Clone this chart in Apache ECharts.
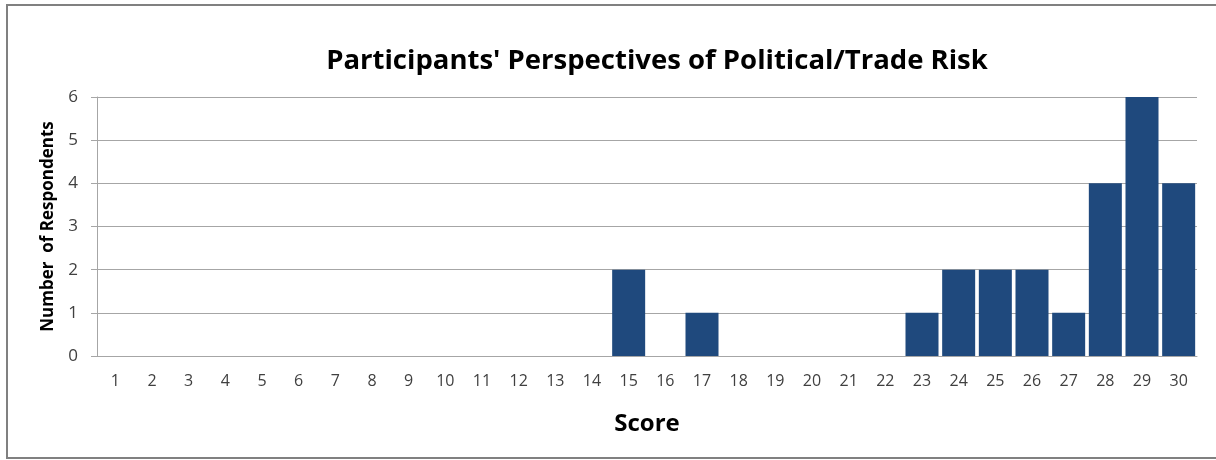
<!DOCTYPE html>
<html>
<head>
<meta charset="utf-8">
<script src="https://cdn.jsdelivr.net/npm/echarts@6/dist/echarts.min.js"></script>
<style>
  html, body { margin: 0; padding: 0; background: #fff; }
  #chart { width: 1216px; height: 460px; }
</style>
</head>
<body>
<div id="chart"></div>
<script>
const scores = ['1','2','3','4','5','6','7','8','9','10','11','12','13','14','15',
  '16','17','18','19','20','21','22','23','24','25','26','27','28','29','30'];
const respondents = [0,0,0,0,0,0,0,0,0,0,0,0,0,0,2,0,1,0,0,0,0,0,1,2,2,2,1,4,6,4];
const yTicks = [0, 1, 2, 3, 4, 5, 6];

const myChart = echarts.init(document.getElementById('chart'));
const option = {
  animation: false,
  graphic: [{
    type: 'rect',
    shape: { x: 7, y: 5, width: 1230, height: 453 },
    style: { fill: 'none', stroke: '#808080', lineWidth: 2 }
  }],
  title: {
    text: "Participants' Perspectives of Political/Trade Risk",
    left: 652,
    textAlign: 'center',
    top: 42,
    textStyle: { fontFamily: 'Open Sans', fontWeight: 'bold', fontSize: 27.5, color: '#000' }
  },
  grid: { left: 97, right: 19, top: 97, bottom: 104, containLabel: false },
  xAxis: {
    type: 'category',
    data: scores,
    name: 'Score',
    nameLocation: 'middle',
    nameGap: 56,
    nameTextStyle: { fontFamily: 'Open Sans', fontWeight: 'bold', fontSize: 24, color: '#000' },
    axisLine: { lineStyle: { color: '#a6a6a6' } },
    axisTick: { show: false },
    axisLabel: { fontFamily: 'Open Sans', fontSize: 16, color: '#404040', margin: 17, interval: 0 }
  },
  yAxis: {
    type: 'value',
    min: yTicks[0],
    max: yTicks[yTicks.length - 1],
    interval: 1,
    name: 'Number  of Respondents',
    nameLocation: 'middle',
    nameGap: 40,
    nameTextStyle: { fontFamily: 'Open Sans', fontWeight: 'bold', fontSize: 17, color: '#000' },
    axisLine: { show: true, lineStyle: { color: '#a6a6a6' } },
    axisTick: { show: true, length: 6, lineStyle: { color: '#a6a6a6' } },
    splitLine: { lineStyle: { color: '#a6a6a6' } },
    axisLabel: { fontFamily: 'Open Sans', fontSize: 17, color: '#404040', margin: 19 }
  },
  series: [{
    type: 'bar',
    data: respondents,
    barCategoryGap: '10%',
    itemStyle: { color: '#1f497d' }
  }]
};
myChart.setOption(option);
window.onresize = function () { myChart.resize(); };
</script>
</body>
</html>
